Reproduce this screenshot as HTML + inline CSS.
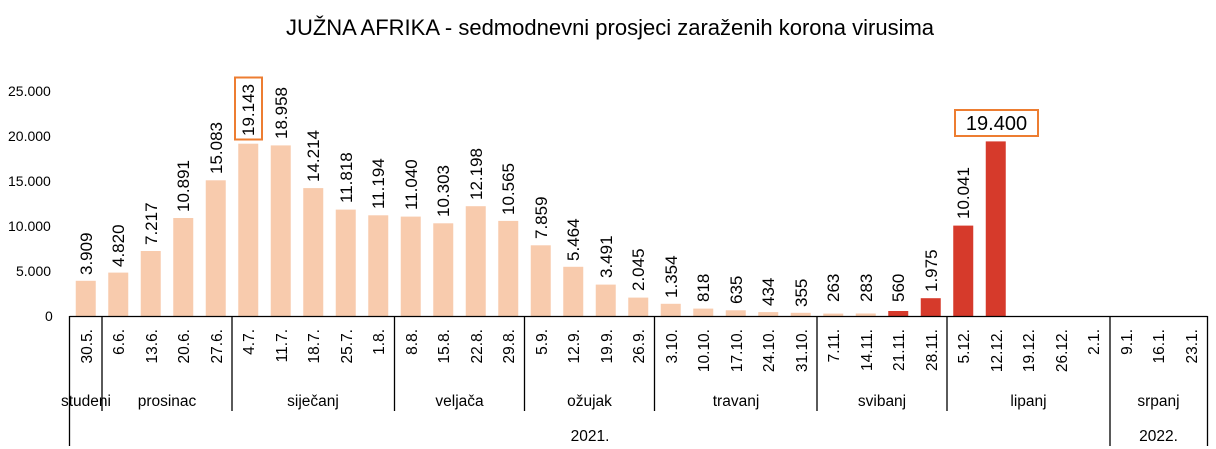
<!DOCTYPE html>
<html><head><meta charset="utf-8"><style>
body{margin:0;background:#fff}
svg{display:block;font-family:"Liberation Sans",sans-serif}
.v{font-size:17px;fill:#000}
.d{font-size:15.5px;fill:#000}
.y{font-size:14px;fill:#000}
.m{font-size:15.5px;fill:#000}
</style></head><body>
<svg width="1216" height="449" viewBox="0 0 1216 449">
<text x="610" y="35" text-anchor="middle" font-size="22">JUŽNA AFRIKA - sedmodnevni prosjeci zaraženih korona virusima</text>
<g class="y">
<text x="8" y="96">25.000</text>
<text x="8" y="141">20.000</text>
<text x="8" y="186">15.000</text>
<text x="8" y="231">10.000</text>
<text x="16" y="276">5.000</text>
<text x="45" y="321">0</text>
</g>
<g fill="#F8CBAD">
<rect x="75.75" y="280.8" width="20" height="35.2"/>
<rect x="108.25" y="272.6" width="20" height="43.4"/>
<rect x="140.75" y="251" width="20" height="65"/>
<rect x="173.25" y="218" width="20" height="98"/>
<rect x="205.75" y="180.3" width="20" height="135.7"/>
<rect x="238.25" y="143.7" width="20" height="172.3"/>
<rect x="270.75" y="145.4" width="20" height="170.6"/>
<rect x="303.25" y="188.1" width="20" height="127.9"/>
<rect x="335.75" y="209.6" width="20" height="106.4"/>
<rect x="368.25" y="215.3" width="20" height="100.7"/>
<rect x="400.75" y="216.6" width="20" height="99.4"/>
<rect x="433.25" y="223.3" width="20" height="92.7"/>
<rect x="465.75" y="206.2" width="20" height="109.8"/>
<rect x="498.25" y="220.9" width="20" height="95.1"/>
<rect x="530.75" y="245.3" width="20" height="70.7"/>
<rect x="563.25" y="266.8" width="20" height="49.2"/>
<rect x="595.75" y="284.6" width="20" height="31.4"/>
<rect x="628.25" y="297.6" width="20" height="18.4"/>
<rect x="660.75" y="303.8" width="20" height="12.2"/>
<rect x="693.25" y="308.6" width="20" height="7.4"/>
<rect x="725.75" y="310.3" width="20" height="5.7"/>
<rect x="758.25" y="312.1" width="20" height="3.9"/>
<rect x="790.75" y="312.8" width="20" height="3.2"/>
<rect x="823.25" y="313.6" width="20" height="2.4"/>
<rect x="855.75" y="313.5" width="20" height="2.5"/>
</g>
<g fill="#D63A2B">
<rect x="888.25" y="311" width="20" height="5"/>
<rect x="920.75" y="298.2" width="20" height="17.8"/>
<rect x="953.25" y="225.6" width="20" height="90.4"/>
<rect x="985.75" y="141.4" width="20" height="174.6"/>
</g>
<g class="v">
<text transform="translate(92,275) rotate(-90)">3.909</text>
<text transform="translate(124,267) rotate(-90)">4.820</text>
<text transform="translate(157,245) rotate(-90)">7.217</text>
<text transform="translate(189,212) rotate(-90)">10.891</text>
<text transform="translate(222,174) rotate(-90)">15.083</text>
<text transform="translate(254,136) rotate(-90)">19.143</text>
<text transform="translate(287,139) rotate(-90)">18.958</text>
<text transform="translate(319,182) rotate(-90)">14.214</text>
<text transform="translate(352,203) rotate(-90)">11.818</text>
<text transform="translate(384,209) rotate(-90)">11.194</text>
<text transform="translate(417,210) rotate(-90)">11.040</text>
<text transform="translate(449,217) rotate(-90)">10.303</text>
<text transform="translate(482,200) rotate(-90)">12.198</text>
<text transform="translate(514,215) rotate(-90)">10.565</text>
<text transform="translate(547,239) rotate(-90)">7.859</text>
<text transform="translate(579,261) rotate(-90)">5.464</text>
<text transform="translate(612,278) rotate(-90)">3.491</text>
<text transform="translate(644,291) rotate(-90)">2.045</text>
<text transform="translate(677,298) rotate(-90)">1.354</text>
<text transform="translate(709,302) rotate(-90)">818</text>
<text transform="translate(742,304) rotate(-90)">635</text>
<text transform="translate(774,306) rotate(-90)">434</text>
<text transform="translate(807,307) rotate(-90)">355</text>
<text transform="translate(839,302) rotate(-90)">263</text>
<text transform="translate(872,302) rotate(-90)">283</text>
<text transform="translate(904,302) rotate(-90)">560</text>
<text transform="translate(937,292) rotate(-90)">1.975</text>
<text transform="translate(969,219) rotate(-90)">10.041</text>
</g>
<rect x="235" y="77.5" width="27" height="62" fill="none" stroke="#ED7D31" stroke-width="2"/>
<rect x="955" y="110" width="83" height="26" fill="#fff" stroke="#ED7D31" stroke-width="2"/>
<text x="996.5" y="130" text-anchor="middle" font-size="20">19.400</text>
<g stroke="#000" stroke-width="1.3">
<line x1="69.5" y1="316.5" x2="1207.5" y2="316.5"/>
<line x1="69.5" y1="316" x2="69.5" y2="446"/>
<line x1="1110" y1="316" x2="1110" y2="446"/>
<line x1="1207.5" y1="316" x2="1207.5" y2="446"/>
<line x1="102" y1="316" x2="102" y2="411"/>
<line x1="232" y1="316" x2="232" y2="411"/>
<line x1="394.5" y1="316" x2="394.5" y2="411"/>
<line x1="524.5" y1="316" x2="524.5" y2="411"/>
<line x1="654.5" y1="316" x2="654.5" y2="411"/>
<line x1="817" y1="316" x2="817" y2="411"/>
<line x1="947" y1="316" x2="947" y2="411"/>
</g>
<g class="d" text-anchor="end">
<text transform="translate(92,329) rotate(-90)">30.5.</text>
<text transform="translate(124,329) rotate(-90)">6.6.</text>
<text transform="translate(157,329) rotate(-90)">13.6.</text>
<text transform="translate(189,329) rotate(-90)">20.6.</text>
<text transform="translate(222,329) rotate(-90)">27.6.</text>
<text transform="translate(254,329) rotate(-90)">4.7.</text>
<text transform="translate(287,329) rotate(-90)">11.7.</text>
<text transform="translate(319,329) rotate(-90)">18.7.</text>
<text transform="translate(352,329) rotate(-90)">25.7.</text>
<text transform="translate(384,329) rotate(-90)">1.8.</text>
<text transform="translate(417,329) rotate(-90)">8.8.</text>
<text transform="translate(449,329) rotate(-90)">15.8.</text>
<text transform="translate(482,329) rotate(-90)">22.8.</text>
<text transform="translate(514,329) rotate(-90)">29.8.</text>
<text transform="translate(547,329) rotate(-90)">5.9.</text>
<text transform="translate(579,329) rotate(-90)">12.9.</text>
<text transform="translate(612,329) rotate(-90)">19.9.</text>
<text transform="translate(644,329) rotate(-90)">26.9.</text>
<text transform="translate(677,329) rotate(-90)">3.10.</text>
<text transform="translate(709,329) rotate(-90)">10.10.</text>
<text transform="translate(742,329) rotate(-90)">17.10.</text>
<text transform="translate(774,329) rotate(-90)">24.10.</text>
<text transform="translate(807,329) rotate(-90)">31.10.</text>
<text transform="translate(839,329) rotate(-90)">7.11.</text>
<text transform="translate(872,329) rotate(-90)">14.11.</text>
<text transform="translate(904,329) rotate(-90)">21.11.</text>
<text transform="translate(937,329) rotate(-90)">28.11.</text>
<text transform="translate(969,329) rotate(-90)">5.12.</text>
<text transform="translate(1002,329) rotate(-90)">12.12.</text>
<text transform="translate(1034,329) rotate(-90)">19.12.</text>
<text transform="translate(1067,329) rotate(-90)">26.12.</text>
<text transform="translate(1099,329) rotate(-90)">2.1.</text>
<text transform="translate(1132,329) rotate(-90)">9.1.</text>
<text transform="translate(1164,329) rotate(-90)">16.1.</text>
<text transform="translate(1197,329) rotate(-90)">23.1.</text>
</g>
<g class="m" text-anchor="middle">
<text x="86" y="406">studeni</text>
<text x="167" y="406">prosinac</text>
<text x="313" y="406">siječanj</text>
<text x="459.5" y="406">veljača</text>
<text x="589.5" y="406">ožujak</text>
<text x="736" y="406">travanj</text>
<text x="882" y="406">svibanj</text>
<text x="1028.5" y="406">lipanj</text>
<text x="1158.5" y="406">srpanj</text>
<text x="590" y="441">2021.</text>
<text x="1158.5" y="441">2022.</text>
</g>
</svg>
</body></html>
